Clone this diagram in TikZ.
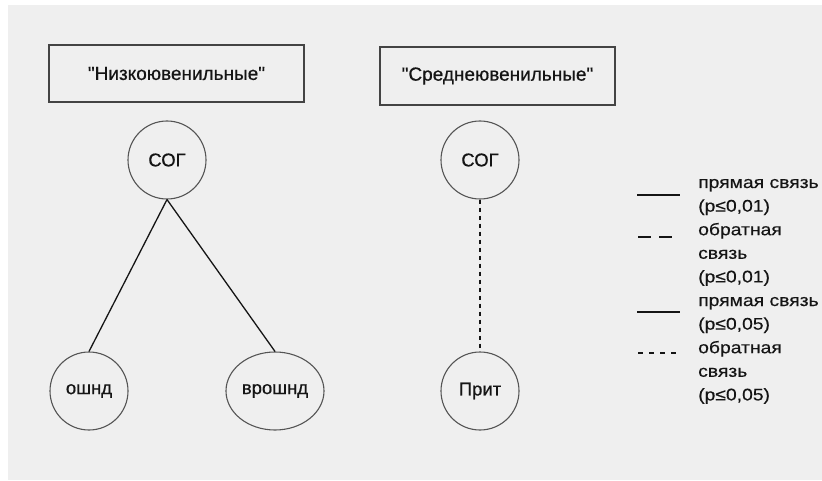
\documentclass[tikz,border=0pt]{standalone}
\usepackage{fontspec}
\setmainfont{Liberation Sans}
\newfontfamily\plainfont{Liberation Sans}[FakeBold=0.6]
\newfontfamily\legfont{Liberation Sans}[FakeStretch=1.15, FakeBold=0.4]
\usetikzlibrary{shapes.geometric}
\definecolor{bg}{HTML}{EFEFEF}
\definecolor{ink}{HTML}{151515}
\definecolor{edge}{HTML}{555555}
\tikzset{
  titlebox/.style={draw=edge!80!black, line width=1.4pt, inner sep=0pt, text=ink,
     font=\plainfont\fontsize{19}{22}\selectfont},
  varnode/.style={draw=edge, line width=1.1pt, circle, minimum size=78pt, inner sep=0pt,
     text=ink, font=\plainfont\fontsize{18.5}{22}\selectfont},
  varoval/.style={draw=edge, line width=1.1pt, ellipse, minimum width=98pt, minimum height=78pt,
     inner sep=0pt, text=ink, font=\plainfont\fontsize{18.5}{22}\selectfont},
  link/.style={draw=ink, line width=1.3pt},
  dlink/.style={draw=ink, line width=1.6pt, dash pattern=on 4pt off 4pt},
  legtext/.style={anchor=base west, inner sep=0pt, text=ink,
     font=\legfont\fontsize{16.8}{20}\selectfont},
}
\begin{document}
\begin{tikzpicture}[x=1pt, y=-1pt]
\useasboundingbox (0,0) rectangle (822,481);
\fill[white] (0,0) rectangle (822,481);
\fill[bg] (8,5) rectangle (822,480);
% titles
\node[titlebox, minimum width=255pt, minimum height=57pt] (t1) at (176.5,73.5) {"Низкоювенильные"};
\node[titlebox, minimum width=235pt, minimum height=58pt] (t2) at (497.5,76) {"Среднеювенильные"};
% nodes
\node[varnode] (sog1) at (167,160) {СОГ};
\node[varnode] (oshnd) at (89,391) {ошнд};
\node[varoval] (vroshnd) at (275,391) {врошнд};
\node[varnode] (sog2) at (480,160) {СОГ};
\node[varnode] (prit) at (480,391) {Прит};
% connectors
\draw[link] (sog1.south) -- (oshnd.north);
\draw[link] (sog1.south) -- (vroshnd.north);
\draw[dlink] (sog2.south) -- (prit.north);
% legend symbols
\coordinate (a1) at (637,195); \coordinate (b1) at (680,195);
\coordinate (a2) at (638,237); \coordinate (b2) at (673,237);
\coordinate (a3) at (637,312); \coordinate (b3) at (680,312);
\coordinate (a4) at (638,353); \coordinate (b4) at (680,353);
\draw[draw=ink, line width=2.7pt] (a1) -- (b1);
\draw[draw=ink, line width=2.7pt, dash pattern=on 13pt off 8pt] (a2) -- (b2);
\draw[draw=ink, line width=1.5pt] (a3) -- (b3);
\draw[draw=ink, line width=1.5pt, dash pattern=on 5pt off 6pt] (a4) -- (b4);
% legend texts
\foreach \t [count=\i from 0] in {прямая связь,(p≤0\string,01),обратная,связь,(p≤0\string,01),прямая связь,(p≤0\string,05),обратная,связь,(p≤0\string,05)}
  \node[legtext] (leg\i) at (698,{188+23.6*\i}) {\t};
\end{tikzpicture}
\end{document}
